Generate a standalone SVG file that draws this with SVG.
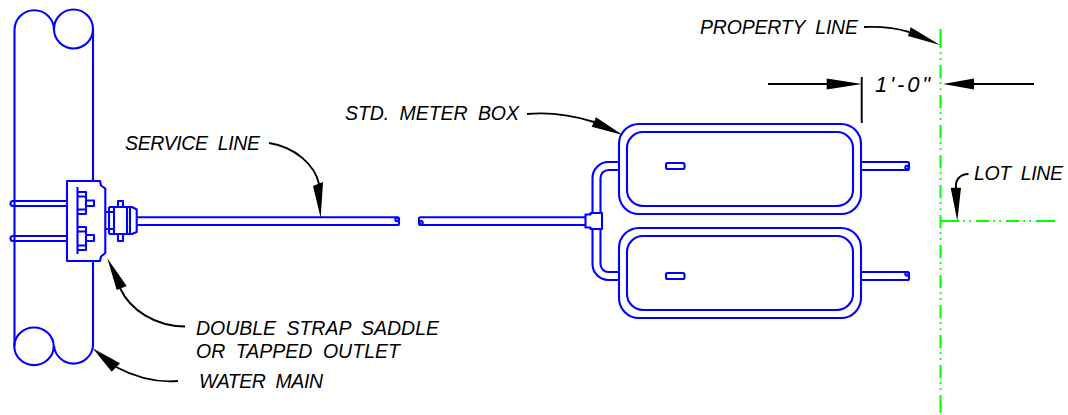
<svg xmlns="http://www.w3.org/2000/svg" width="1068" height="415" viewBox="0 0 1068 415">
<style>
.b{fill:none;stroke:#0000ff;stroke-width:2.1;stroke-linejoin:round}
.w{fill:#fff;stroke:#0000ff;stroke-width:2.1;stroke-linejoin:round}
.g{fill:none;stroke:#00ff00;stroke-width:2}
.d{stroke-dasharray:13.3 4 1.7 4.3 1.7 5}
.k{fill:none;stroke:#000;stroke-width:1.9}
.h{fill:#000;stroke:none}
text{font-family:"Liberation Sans",Arial,sans-serif;font-style:italic;font-size:19.5px;word-spacing:5px;fill:#000}
</style>
<rect width="1068" height="415" fill="#fff"/>
<g id="water-main">
<path class="b" d="M14.500 346V30A19.700 19.700 0 0 1 54 30"/>
<circle class="b" cx="73.500" cy="29" r="19.500"/>
<path class="b" d="M93 29V346A19.600 19.600 0 0 1 54 346"/>
<ellipse class="b" cx="34" cy="346.300" rx="19.700" ry="18.800"/>
</g>
<g id="saddle">
<path class="b" d="M67 201H13A2.500 2.500 0 0 0 13 206H67M67 236H13A2.500 2.500 0 0 0 13 241H67"/>
<path class="w" d="M67 181H100L101 185.500L105.300 188.500V253L101 256.500L100 261H67Z"/>
<path class="b" d="M77.500 187V254M78 192H86V214H78M78 196.500H86M78 209.500H86M86 200.500H94V206H86M78 227H86V250H78M78 231.500H86M78 245.500H86M86 235H94V241H86"/>
</g>
<g id="service-fitting">
<path class="b" d="M105.300 212H114V229H105.300M109 207V234M109 207H127V234H109M114 207V234M118 207V201H123V207M118 234V241H123V234M127 207H132L136.700 209.500V232L132 234H127M130 207V234M136.700 217.300V225"/>
</g>
<g id="service-line">
<path class="b" d="M136.700 217.300H397.500Q399 217.300 399 219V223.500Q399 225 397.500 225H136.700"/>
<circle class="b" cx="397" cy="219.500" r="1.700"/>
<path class="b" d="M586 217.300H420.500Q419 217.300 419 219V223.500Q419 225 420.500 225H586"/>
<circle class="b" cx="421" cy="222.800" r="1.700"/>
</g>
<g id="meter-tee">
<path class="b" d="M585.500 217.300V214.500H590.500V213H602V229H590.500V227.500H585.500V217.300"/>
<path class="b" d="M592.500 213V178A16 16 0 0 1 608.500 162H619M600.500 213V178A8 8 0 0 1 608.500 170H619"/>
<path class="b" d="M592.500 229V264A16 16 0 0 0 608.500 280H619M600.500 229V264A8 8 0 0 0 608.500 272H619"/>
</g>
<g id="meter-box-1">
<rect class="b" x="619" y="124" width="242" height="90" rx="20"/>
<rect class="b" x="627" y="132" width="226" height="74" rx="16"/>
<rect class="b" x="666" y="163" width="18.500" height="6" rx="1.500"/>
<path class="b" d="M861 162H907.500Q909 162 909 163.500V168.500Q909 170 907.500 170H861"/>
<circle class="b" cx="907" cy="167.500" r="1.700"/>
</g>
<g id="meter-box-2">
<rect class="b" x="619" y="228" width="242" height="90" rx="20"/>
<rect class="b" x="627" y="236" width="226" height="74" rx="16"/>
<rect class="b" x="666" y="273" width="18.500" height="6" rx="1.500"/>
<path class="b" d="M861 272H907.500Q909 272 909 273.500V278.500Q909 280 907.500 280H861"/>
<circle class="b" cx="907" cy="274" r="1.700"/>
</g>
<g id="property-line">
<path class="g" d="M940.500 29V35M940.500 395V413"/>
<path class="g d" d="M940.500 35V395"/>
</g>
<g id="lot-line">
<path class="g" d="M940 221H946M1036 221H1055"/>
<path class="g d" d="M946 221H1036"/>
</g>
<g id="connectors">
<path class="k" d="M864 27Q890 26 909 32"/>
<path class="h" d="M940 45L908 36L910.700 27.300Z"/>
<path class="k" d="M768 84H828M861.700 77V123M1034 84H973"/>
<path class="h" d="M862 84L826.700 78.500V89.500Z"/>
<path class="h" d="M943 84L974 78.500V89.500Z"/>
<path class="k" d="M527 114C550 112 575 116 594 122"/>
<path class="h" d="M622.700 135L591.700 126.700L596 117.300Z"/>
<path class="k" d="M269 143C295 147 315 165 319 184"/>
<path class="h" d="M320.700 218L313 186L323 182Z"/>
<path class="k" d="M185 326.500C155 326 130 310 120 288"/>
<path class="h" d="M107.300 258.300L116.700 290L126.700 286Z"/>
<path class="k" d="M178 381C155 383 135 377 116 367"/>
<path class="h" d="M92.700 348.300L111.700 371.700L120 363.300Z"/>
<path class="k" d="M968.500 174C960 174 955 180 956 188"/>
<path class="h" d="M957.300 221L950.700 187.700H961Z"/>
</g>
<g id="labels">
<text x="700" y="33.500" textLength="158">PROPERTY LINE</text>
<text x="875" y="91.500" textLength="55" style="font-size:22px">1'-0"</text>
<text x="345" y="120" textLength="174">STD. METER BOX</text>
<text x="125" y="150" textLength="135">SERVICE LINE</text>
<text x="974" y="180" textLength="89">LOT LINE</text>
<text x="196" y="334.500" textLength="243">DOUBLE STRAP SADDLE</text>
<text x="196" y="357.700" textLength="204">OR TAPPED OUTLET</text>
<text x="199" y="387.700" textLength="124">WATER MAIN</text>
</g>
</svg>
